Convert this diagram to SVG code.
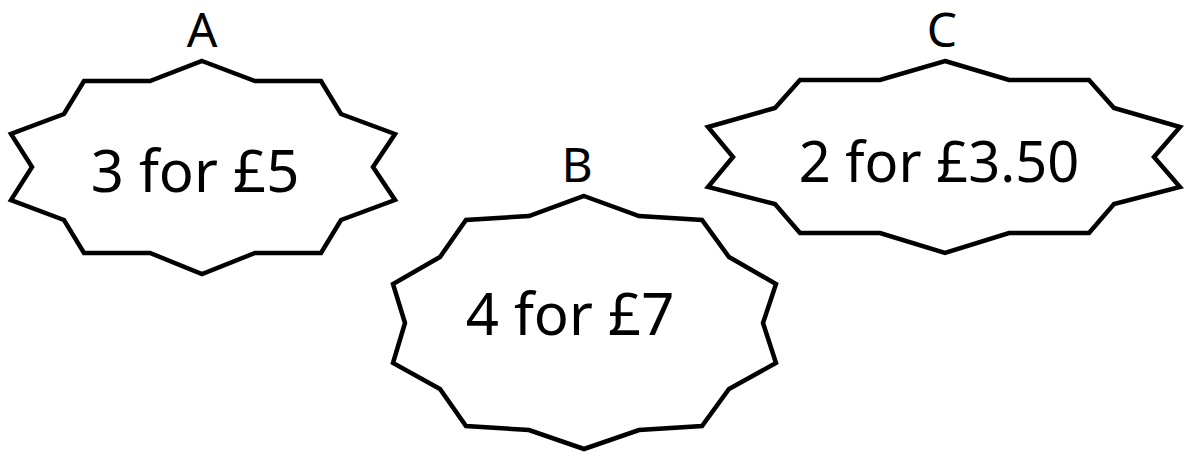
<svg xmlns="http://www.w3.org/2000/svg" width="1184" height="452" viewBox="0 0 1184 452">
<style>
.shape{fill:#fff;stroke:#000;stroke-width:4.5;stroke-linejoin:miter}
.t{font-family:"Noto Sans","Open Sans",sans-serif;font-size:58px;fill:#000;text-anchor:middle}
.l{font-family:"Noto Sans","Open Sans",sans-serif;font-size:48px;fill:#000;text-anchor:middle}
</style>
<rect width="1184" height="452" fill="#fff"/>
<g id="nodeA">
<polygon class="shape" points="202,61 255,81 321,81 341,114 395,134 373,167 395,200 341,220 321,253 255,253 202,274 150,253 84,253 64,220 11,200 32,167 11,134 64,114 84,81 150,81"/>
<text class="l" x="202" y="47">A</text>
<text class="t" x="195" y="192">3 for £5</text>
</g>
<g id="nodeB">
<polygon class="shape" points="584,196 639,216 702,220 729,257 776,284 763,323 776,363 729,389 702,426 639,430 584,449 529,430 466,426 440,389 393,363 405,323 393,284 440,257 466,220 529,216"/>
<text class="l" x="577" y="182">B</text>
<text class="t" x="570" y="335">4 for £7</text>
</g>
<g id="nodeC">
<polygon class="shape" points="945,61 1009,80 1089,80 1114,108 1180,127 1154,157 1180,187 1114,204 1089,233 1009,233 945,253 880,233 800,233 775,204 708,187 733,157 708,127 775,108 800,80 880,80"/>
<text class="l" x="942" y="47">C</text>
<text class="t" x="939" y="182" style="font-size:56px">2 for £3.50</text>
</g>
<g id="connectors"></g>
</svg>
